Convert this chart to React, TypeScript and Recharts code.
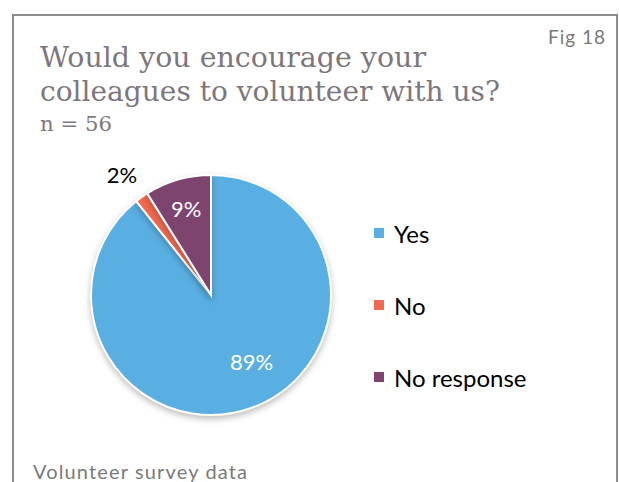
import React from "react";
import { PieChart, Pie, Cell } from "recharts";

const categories = ["Yes", "No", "No response"];
const counts = [50, 1, 5];
const percentLabels = ["89%", "2%", "9%"];
const colors = ["#5AAFE2", "#F2694F", "#7E4470"];
const titleLines = ["Would you encourage your", "colleagues to volunteer with us?"];
const subtitle = "n = 56";
const figLabel = "Fig 18";
const sourceNote = "Volunteer survey data";

const data = categories.map((name, i) => ({
  name,
  value: counts[i],
  label: percentLabels[i],
  color: colors[i],
}));

const RAD = Math.PI / 180;
const labelRadius = [0.65, 1.25, 0.75];
const labelAngleShift = [12, 1, 0];

const renderLabel = (props: any) => {
  const { cx, cy, midAngle, outerRadius, index } = props;
  const inside = index !== 1;
  const r = outerRadius * labelRadius[index];
  const ang = midAngle + labelAngleShift[index];
  const x = cx + r * Math.cos(-ang * RAD);
  const y = cy + r * Math.sin(-ang * RAD);
  return (
    <text
      x={x}
      y={y}
      fill={inside ? "#ffffff" : "#000000"}
      textAnchor="middle"
      dominantBaseline="central"
      fontFamily="Lato, 'Open Sans', sans-serif"
      fontSize={22}
    >
      {data[index].label}
    </text>
  );
};

export default function App() {
  return (
    <div
      style={{
        position: "absolute",
        left: 0,
        top: 0,
        width: 619,
        height: 482,
        overflow: "hidden",
        background: "#ffffff",
      }}
    >
      <style>{`.recharts-pie-sector { filter: drop-shadow(0px 3px 3px rgba(0,0,0,0.25)); }`}</style>
      <div
        style={{
          position: "absolute",
          left: 12,
          top: 14,
          width: 602,
          height: 500,
          border: "2px solid #8c8c8c",
        }}
      />
      <svg
        width={619}
        height={482}
        style={{ position: "absolute", left: 0, top: 0 }}
      >
        <text
          x={548}
          y={44}
          fill="#7a7a7a"
          fontFamily="Lato, 'Open Sans', sans-serif"
          fontSize={19}
          textLength={57}
        >
          {figLabel}
        </text>
        <text
          x={40}
          y={67}
          fill="#7d777d"
          fontFamily="'DejaVu Serif', serif"
          fontSize={27}
          textLength={386}
          lengthAdjust="spacingAndGlyphs"
        >
          {titleLines[0]}
        </text>
        <text
          x={40}
          y={101}
          fill="#7d777d"
          fontFamily="'DejaVu Serif', serif"
          fontSize={27}
          textLength={460}
          lengthAdjust="spacingAndGlyphs"
        >
          {titleLines[1]}
        </text>
        <text
          x={40}
          y={131}
          fill="#7d777d"
          fontFamily="'DejaVu Serif', serif"
          fontSize={21}
          textLength={72}
          lengthAdjust="spacingAndGlyphs"
        >
          {subtitle}
        </text>
        <text
          x={33}
          y={479}
          fill="#7a7a7a"
          fontFamily="Lato, 'Open Sans', sans-serif"
          fontSize={20}
          textLength={214}
        >
          {sourceNote}
        </text>
      </svg>
      <div style={{ position: "absolute", left: 0, top: 0 }}>
        <PieChart
          width={619}
          height={482}
          margin={{ top: 0, right: 0, bottom: 0, left: 0 }}
        >
          <Pie
            data={data}
            dataKey="value"
            nameKey="name"
            cx={211}
            cy={295}
            outerRadius={120}
            startAngle={90}
            endAngle={-270}
            stroke="#ffffff"
            strokeWidth={2}
            label={renderLabel}
            labelLine={false}
            isAnimationActive={false}
          >
            {data.map((d) => (
              <Cell key={d.name} fill={d.color} />
            ))}
          </Pie>
        </PieChart>
      </div>
      <div
        style={{
          position: "absolute",
          left: 374,
          top: 197,
          width: 230,
          fontFamily: "Lato, 'Open Sans', sans-serif",
        }}
      >
        {data.map((d) => (
          <div
            key={d.name}
            style={{
              display: "flex",
              alignItems: "center",
              height: 72,
              fontSize: 24,
              color: "#000",
            }}
          >
            <span
              style={{
                display: "inline-block",
                width: 10,
                height: 10,
                background: d.color,
                marginRight: 10,
              }}
            />
            <span>{d.name}</span>
          </div>
        ))}
      </div>
    </div>
  );
}
